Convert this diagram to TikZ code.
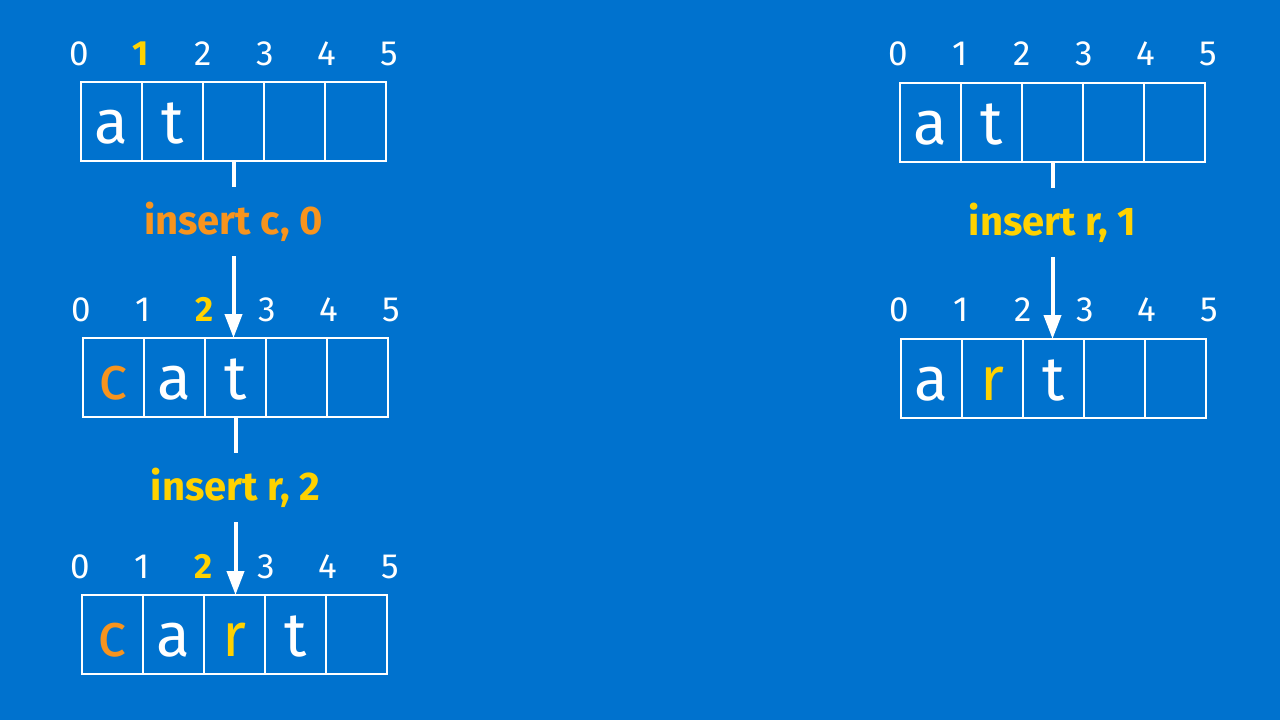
\documentclass[tikz,border=0pt]{standalone}
\usepackage{fontspec}
\setmainfont{Fira Sans}
\usetikzlibrary{arrows.meta,positioning}
\definecolor{bgblue}{RGB}{0,114,206}
\definecolor{insorange}{RGB}{247,148,30}
\definecolor{insyellow}{RGB}{255,210,0}
\tikzset{
  cell/.style={draw=white, line width=2pt, minimum width=61pt, inner sep=0pt, outer sep=0pt,
    text height=61pt, text depth=18pt, anchor=north west,
    font=\fontsize{62}{62}\selectfont},
  idx/.style={text=white, anchor=base, font=\fontsize{35}{35}\selectfont},
  hidx/.style={text=insyellow, anchor=base, font=\bfseries\fontsize{35}{35}\selectfont},
  op/.style={inner sep=0pt, minimum height=69pt, font=\bfseries\fontsize{40}{40}\selectfont},
  link/.style={white, line width=4pt},
  arrow/.style={link, -{Triangle[length=24pt,width=17pt]}},
}

\begin{document}
\begin{tikzpicture}[x=1pt, y=-1pt]
    \useasboundingbox[fill=bgblue] (0,0) rectangle (1280,720);

    % left: at -> cat -> cart
    \foreach \ch/\col [count=\i from 0] in {a/white,t/white,/white,/white,/white}
        \node[cell, text=\col] (a\i) at ({81+61*\i}, 82) {\ch};
    \foreach \i/\s in {0/idx,1/hidx,2/idx,3/idx,4/idx,5/idx}
        \node[\s] (na\i) at ({79+62*\i}, 65) {\i};

    \foreach \ch/\col [count=\i from 0] in {c/insorange,a/white,t/white,/white,/white}
        \node[cell, text=\col] (b\i) at ({83+61*\i}, 338) {\ch};
    \foreach \i/\s in {0/idx,1/idx,2/hidx,3/idx,4/idx,5/idx}
        \node[\s] (nb\i) at ({81+62*\i}, 321) {\i};

    \foreach \ch/\col [count=\i from 0] in {c/insorange,a/white,r/insyellow,t/white,/white}
        \node[cell, text=\col] (c\i) at ({82+61*\i}, 595) {\ch};
    \foreach \i/\s in {0/idx,1/idx,2/hidx,3/idx,4/idx,5/idx}
        \node[\s] (nc\i) at ({80+62*\i}, 578) {\i};

    \node[op, text=insorange, below=26pt of a2] (ins1) {insert c, 0};
    \draw[link] (a2) -- (ins1);
    \draw[arrow] (ins1.south) -- (ins1.south |- b2.north);

    \node[op, text=insyellow, below=36pt of b2] (ins2) {insert r, 2};
    \draw[link] (b2) -- (ins2);
    \draw[arrow] (ins2.south) -- (ins2.south |- c2.north);

    % right: at -> art
    \foreach \ch/\col [count=\i from 0] in {a/white,t/white,/white,/white,/white}
        \node[cell, text=\col] (d\i) at ({900+61*\i}, 83) {\ch};
    \foreach \i in {0,...,5}
        \node[idx] (nd\i) at ({898+62*\i}, 65) {\i};

    \foreach \ch/\col [count=\i from 0] in {a/white,r/insyellow,t/white,/white,/white}
        \node[cell, text=\col] (e\i) at ({901+61*\i}, 339) {\ch};
    \foreach \i in {0,...,5}
        \node[idx] (ne\i) at ({899+62*\i}, 321) {\i};

    \node[op, text=insyellow, below=26pt of d2] (ins3) {insert r, 1};
    \draw[link] (d2) -- (ins3);
    \draw[arrow] (ins3.south) -- (ins3.south |- e2.north);
\end{tikzpicture}
\end{document}
